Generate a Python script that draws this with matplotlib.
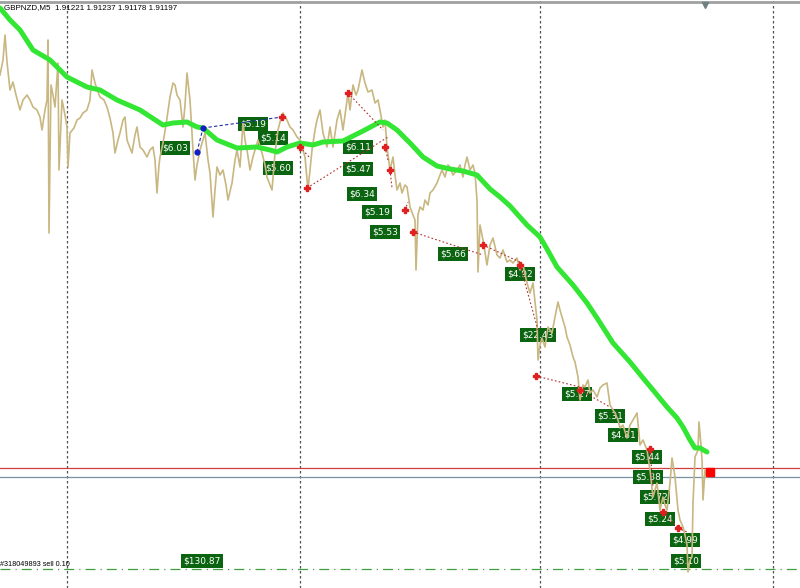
import matplotlib.pyplot as plt

symbol = "GBPNZD,M5"
ohlc = [1.91221, 1.91237, 1.91178, 1.91197]

price_bars = [0, 3, 5, 7, 10, 13, 16, 20, 23, 27, 30, 33, 37, 40, 42, 45, 47, 48, 49, 51,
              53, 55, 58, 59, 62, 65, 67, 68, 70, 74, 77, 80, 83, 87, 90, 92, 95, 98, 100, 104,
              107, 110, 113, 115, 118, 120, 123, 125, 127, 130, 132, 135, 137, 140, 143, 147, 150, 153, 155, 157,
              159, 160, 163, 166, 170, 173, 175, 177, 180, 183, 185, 187, 190, 191, 193, 195, 197, 200, 203, 205,
              208, 210, 213, 215, 217, 220, 223, 226, 228, 232, 235, 237, 240, 243, 245, 247, 250, 253, 255, 258,
              262, 265, 267, 270, 272, 275, 278, 280, 283, 287, 290, 293, 297, 300, 303, 305, 308, 310, 312, 315,
              317, 320, 323, 327, 330, 333, 337, 340, 343, 345, 347, 348, 350, 353, 356, 358, 360, 362, 365, 368,
              372, 375, 378, 380, 383, 385, 387, 390, 393, 395, 397, 400, 402, 405, 407, 410, 413, 415, 416, 418,
              420, 423, 425, 428, 430, 433, 437, 440, 442, 445, 448, 450, 453, 457, 460, 463, 465, 467, 470, 473,
              475, 477, 478, 480, 483, 487, 490, 493, 497, 500, 503, 507, 510, 513, 517, 520, 523, 527, 530, 533,
              536, 537, 538, 540, 542, 545, 548, 550, 552, 555, 558, 560, 562, 565, 567, 570, 573, 575, 578, 580,
              583, 585, 588, 590, 593, 597, 600, 603, 607, 610, 613, 615, 618, 620, 623, 627, 630, 633, 637, 640,
              643, 647, 650, 653, 655, 657, 660, 663, 665, 667, 670, 672, 675, 678, 680, 683, 685, 687, 688, 690,
              692, 693, 695, 698, 699, 701, 702, 703, 705, 707]
price_close = [1.9522, 1.9537, 1.9562, 1.9535, 1.9507, 1.9515, 1.9502, 1.9487, 1.9497, 1.9502,
               1.9497, 1.9490, 1.9487, 1.9480, 1.9467, 1.9487, 1.9497, 1.9557, 1.9364, 1.9512,
               1.9502, 1.9490, 1.9534, 1.9427, 1.9497, 1.9482, 1.9470, 1.9430, 1.9464, 1.9469,
               1.9477, 1.9479, 1.9484, 1.9487, 1.9497, 1.9527, 1.9514, 1.9505, 1.9500, 1.9497,
               1.9490, 1.9479, 1.9464, 1.9444, 1.9457, 1.9464, 1.9477, 1.9480, 1.9457, 1.9449,
               1.9444, 1.9462, 1.9470, 1.9450, 1.9447, 1.9440, 1.9447, 1.9450, 1.9437, 1.9404,
               1.9432, 1.9440, 1.9454, 1.9472, 1.9500, 1.9514, 1.9512, 1.9502, 1.9497, 1.9470,
               1.9492, 1.9524, 1.9497, 1.9480, 1.9447, 1.9417, 1.9432, 1.9447, 1.9457, 1.9464,
               1.9437, 1.9424, 1.9380, 1.9407, 1.9430, 1.9422, 1.9427, 1.9412, 1.9397, 1.9414,
               1.9437, 1.9447, 1.9430, 1.9474, 1.9457, 1.9447, 1.9427, 1.9440, 1.9447, 1.9457,
               1.9444, 1.9432, 1.9420, 1.9412, 1.9407, 1.9444, 1.9467, 1.9475, 1.9484, 1.9477,
               1.9470, 1.9467, 1.9460, 1.9457, 1.9447, 1.9440, 1.9407, 1.9427, 1.9447, 1.9467,
               1.9477, 1.9487, 1.9464, 1.9450, 1.9470, 1.9450, 1.9477, 1.9487, 1.9467, 1.9482,
               1.9497, 1.9504, 1.9487, 1.9512, 1.9502, 1.9507, 1.9517, 1.9527, 1.9514, 1.9505,
               1.9507, 1.9494, 1.9497, 1.9487, 1.9470, 1.9477, 1.9450, 1.9427, 1.9440, 1.9422,
               1.9407, 1.9414, 1.9404, 1.9412, 1.9410, 1.9390, 1.9382, 1.9377, 1.9327, 1.9382,
               1.9390, 1.9387, 1.9397, 1.9392, 1.9404, 1.9407, 1.9414, 1.9422, 1.9427, 1.9420,
               1.9432, 1.9430, 1.9422, 1.9427, 1.9432, 1.9420, 1.9432, 1.9440, 1.9427, 1.9432,
               1.9424, 1.9397, 1.9325, 1.9372, 1.9357, 1.9332, 1.9352, 1.9359, 1.9342, 1.9339,
               1.9347, 1.9335, 1.9337, 1.9334, 1.9339, 1.9327, 1.9332, 1.9314, 1.9304, 1.9314,
               1.9287, 1.9277, 1.9237, 1.9252, 1.9259, 1.9250, 1.9270, 1.9267, 1.9264, 1.9280,
               1.9295, 1.9287, 1.9280, 1.9270, 1.9260, 1.9252, 1.9240, 1.9235, 1.9220, 1.9197,
               1.9212, 1.9210, 1.9217, 1.9204, 1.9207, 1.9200, 1.9209, 1.9212, 1.9214, 1.9192,
               1.9187, 1.9184, 1.9177, 1.9169, 1.9172, 1.9159, 1.9172, 1.9177, 1.9184, 1.9152,
               1.9157, 1.9147, 1.9127, 1.9100, 1.9107, 1.9114, 1.9087, 1.9100, 1.9092, 1.9087,
               1.9114, 1.9139, 1.9120, 1.9087, 1.9077, 1.9070, 1.9062, 1.9052, 1.9025, 1.9037,
               1.9040, 1.9094, 1.9140, 1.9147, 1.9175, 1.9152, 1.9137, 1.9097, 1.9127, 1.9120]

ma_bars = [0, 10, 20, 33, 50, 67, 87, 100, 117, 140, 163, 173, 187, 197, 203, 217, 237, 257, 270, 277,
           287, 300, 313, 323, 343, 363, 380, 387, 397, 410, 423, 437, 450, 463, 477, 490, 500, 510, 527, 540,
           547, 557, 573, 587, 597, 613, 630, 643, 653, 667, 677, 683, 690, 695, 700, 707]
ma_values = [1.9589, 1.9577, 1.9567, 1.9547, 1.9537, 1.9520, 1.9510, 1.9507, 1.9497, 1.9487,
             1.9472, 1.9474, 1.9475, 1.9470, 1.9469, 1.9457, 1.9449, 1.9450, 1.9447, 1.9445,
             1.9450, 1.9454, 1.9452, 1.9455, 1.9456, 1.9466, 1.9475, 1.9474, 1.9467, 1.9454,
             1.9440, 1.9431, 1.9428, 1.9426, 1.9422, 1.9408, 1.9400, 1.9391, 1.9372, 1.9360,
             1.9348, 1.9330, 1.9312, 1.9294, 1.9279, 1.9254, 1.9235, 1.9219, 1.9207, 1.9190,
             1.9179, 1.9170, 1.9157, 1.9149, 1.9149, 1.9145]

ask = 1.9129
bid = 1.9120
order_price = 1.9028
order_text = "#318049893 sell 0.10"
separator_bars = [67, 300, 540, 773]

buy_open_bar = [203, 197]
buy_open_price = [1.9469, 1.9445]
buy_close_bar = [282, 203]
buy_close_price = [1.9480, 1.9469]

sell_open_bar = [348, 307, 300, 385, 390, 405, 413, 483, 520, 536, 580, 650, 663, 678]
sell_open_price = [1.9504, 1.9409, 1.9450, 1.9450, 1.9427, 1.9387, 1.9365, 1.9352, 1.9332, 1.9221,
                   1.9207, 1.9148, 1.9085, 1.9069]
sell_close_bar = [383, 388, 310, 388, 392, 408, 483, 522, 538, 580, 610, 653, 678, 687]
sell_close_price = [1.9467, 1.9460, 1.9439, 1.9437, 1.9409, 1.9395, 1.9342, 1.9334, 1.9267, 1.9210,
                    1.9190, 1.9110, 1.9069, 1.9065]

profit_bars = [175, 253, 273, 278, 358, 358, 362, 377, 385, 453, 520, 538,
               577, 610, 623, 647, 648, 655, 660, 685, 686, 202]
profit_prices = [1.9449, 1.9473, 1.9459, 1.9429, 1.9450, 1.9428, 1.9403, 1.9385, 1.9365, 1.9343, 1.9323, 1.9262,
                 1.9203, 1.9181, 1.9162, 1.9140, 1.9120, 1.9100, 1.9078, 1.9057, 1.9036, 1.9036]
profit_texts = ["$6.03", "$5.19", "$5.14", "$5.60", "$6.11", "$5.47", "$6.34", "$5.19", "$5.53", "$5.66",
                "$4.92", "$22.43", "$5.27", "$5.31", "$4.81", "$5.44", "$5.38", "$5.72", "$5.24", "$4.99",
                "$5.10", "$130.87"]

fig = plt.figure(figsize=(8, 5.88), dpi=100)
ax = fig.add_axes([0, 0, 1, 1])
ax.set_xlim(0, 800)
ax.set_ylim(1.9009, 1.9597)
ax.axis('off')

for b in separator_bars:
    ax.axvline(b, color='#505050', lw=0.9, ls=(0, (2, 2)), zorder=1)

ax.axhline(ask, color='#d04040', lw=0.9, zorder=1)
ax.axhline(bid, color='#7890a0', lw=0.9, zorder=1)
ax.axhline(order_price, color='#40a040', lw=0.9, ls=(0, (8, 4, 1, 4)), zorder=1)
ax.axhline(1.95955, color='#a0a0a0', lw=2, zorder=5)
ax.plot(705, 1.95925, marker='v', color='#708080', ms=5, zorder=6)

for i in range(len(profit_texts)):
    ax.text(profit_bars[i], profit_prices[i], profit_texts[i], color='white', fontsize=6.5,
            ha='center', va='center', zorder=2,
            bbox=dict(boxstyle='square,pad=0.25', fc='#0a6410', ec='none'))

ax.plot(price_bars, price_close, color='#c8b780', lw=1.2, zorder=3)
ax.plot(ma_bars, ma_values, color='#33e633', lw=3.6, solid_capstyle='round',
        solid_joinstyle='round', zorder=4)

for i in range(len(buy_open_bar)):
    ax.plot([buy_open_bar[i], buy_close_bar[i]], [buy_open_price[i], buy_close_price[i]],
            color='#2030a0', lw=0.8, ls=(0, (3, 2)), zorder=4)
    ax.plot(buy_open_bar[i], buy_open_price[i], marker='o', color='#1020c0', ms=3.5, zorder=5)
for i in range(len(sell_open_bar)):
    ax.plot([sell_open_bar[i], sell_close_bar[i]], [sell_open_price[i], sell_close_price[i]],
            color='#b03030', lw=0.8, ls=(0, (1.5, 2)), zorder=4)
    ax.plot(sell_open_bar[i], sell_open_price[i], marker='P', color='#e02020', ms=4, zorder=5)
ax.plot(buy_close_bar[0], buy_close_price[0], marker='P', color='#e02020', ms=4, zorder=5)

ax.plot(710, 1.9125, marker='s', color='#ff0000', ms=6, zorder=6)

header = symbol + "  " + " ".join(f"{v:.5f}" for v in ohlc)
ax.text(4, 1.9589, header, fontsize=5.8, family='Liberation Sans', color='black',
        va='center', ha='left', zorder=6)
ax.text(0, 1.9032, order_text, fontsize=5.2, family='Liberation Sans', color='black',
        va='center', ha='left', zorder=6)

fig.savefig('out.png', dpi=100)
